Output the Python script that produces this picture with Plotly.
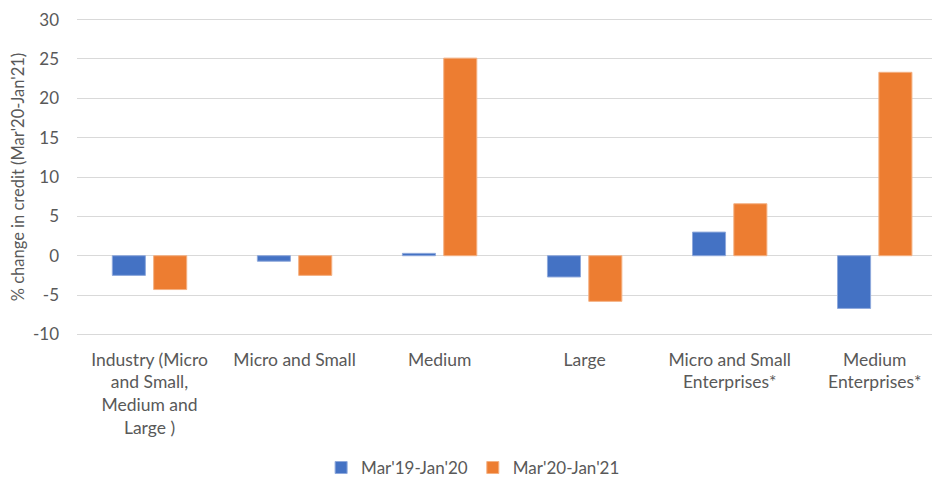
import plotly.graph_objects as go

categories = ["Industry (Micro<br>and Small,<br>Medium and<br>Large )", "Micro and Small", "Medium",
              "Large", "Micro and Small<br>Enterprises*", "Medium<br>Enterprises*"]
series_1 = [-2.5, -0.7, 0.3, -2.7, 3.0, -6.7]
series_2 = [-4.3, -2.5, 25.1, -5.8, 6.6, 23.3]
names = ["Mar'19-Jan'20", "Mar'20-Jan'21"]
y_ticks = [-10, -5, 0, 5, 10, 15, 20, 25, 30]
y_labels = ["-10", "-5", "0", "5", "10", "15", "20", "25", "30"]

font = "Lato, 'Open Sans', sans-serif"
grey = "#595959"

fig = go.Figure()
fig.add_trace(go.Bar(x=categories, y=series_1, name=names[0], marker_color="#4472C4",
                     marker_line=dict(color="#8fa9dc", width=1)))
fig.add_trace(go.Bar(x=categories, y=series_2, name=names[1], marker_color="#ED7D31",
                     marker_line=dict(color="#f4b183", width=1)))

# page body adds an 8px offset, so the figure is a bit smaller than the window
fig.update_layout(
    width=932, height=469,
    margin=dict(l=69, r=0, t=10, b=141, autoexpand=False),
    paper_bgcolor="white", plot_bgcolor="white",
    barmode="group", bargap=0.43, bargroupgap=0.2,
    font=dict(family=font, size=17, color=grey),
    legend=dict(orientation="h", x=0.459, xanchor="center", y=-0.415, yanchor="middle",
                font=dict(size=17, color=grey), itemwidth=30, traceorder="normal"),
    showlegend=True,
)
fig.update_xaxes(range=[-0.5, 5.45], showgrid=False, zeroline=False, showline=False,
                 ticks="", ticklabelstandoff=11, tickfont=dict(size=17.5, color=grey),
                 automargin=False)
# small padding on the range so the end gridlines (-10 and 30) are not clipped
fig.update_yaxes(range=[-10.2, 30.2], tickvals=y_ticks, ticktext=y_labels, showgrid=True,
                 gridcolor="#d9d9d9", gridwidth=1, zeroline=True, zerolinecolor="#d9d9d9",
                 zerolinewidth=1, showline=False, ticks="", ticklabelstandoff=17,
                 ticklabeloverflow="allow",
                 tickfont=dict(size=17, color=grey), automargin=False,
                 title=dict(text="% change in credit (Mar'20-Jan'21)", font=dict(size=16.5, color=grey),
                            standoff=10))

fig.write_html("out.html")
